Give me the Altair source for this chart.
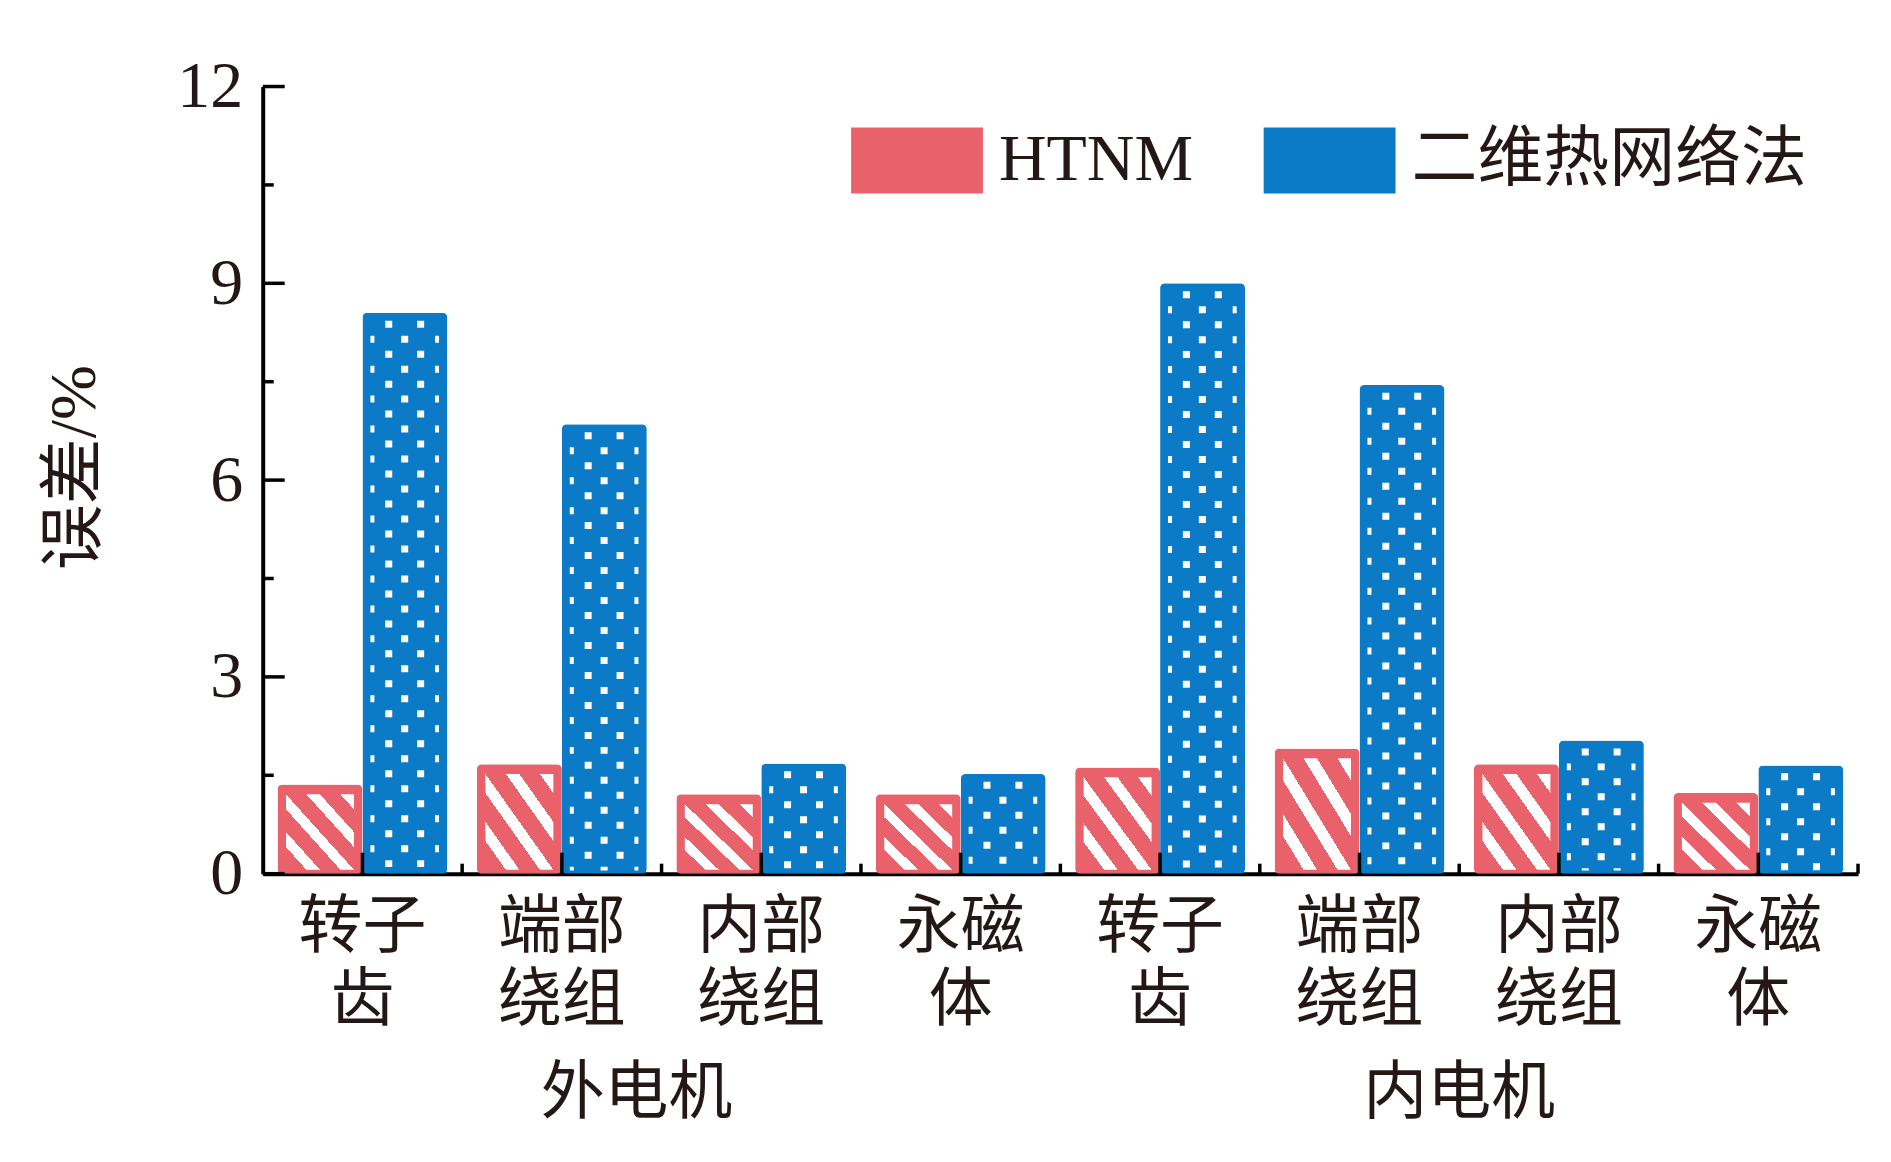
import altair as alt
import pandas as pd

# ---------------- data ----------------
groups = ["外电机", "外电机", "外电机", "外电机", "内电机", "内电机", "内电机", "内电机"]
line1 = ["转子", "端部", "内部", "永磁", "转子", "端部", "内部", "永磁"]
line2 = ["齿", "绕组", "绕组", "体", "齿", "绕组", "绕组", "体"]
series = ["HTNM", "二维热网络法"]
htnm = [1.36, 1.67, 1.21, 1.21, 1.62, 1.91, 1.67, 1.23]
twod = [8.55, 6.85, 1.68, 1.52, 9.00, 7.45, 2.03, 1.65]
group_labels = ["外电机", "内电机"]
y_major = [0, 3, 6, 9, 12]
y_minor = [1.5, 4.5, 7.5, 10.5]

RED = "#E9626B"
BLUE = "#0B7BC7"
SERIF = "Liberation Serif, Noto Sans CJK SC"
CJK = "Noto Sans CJK SC"

keys = [f"{g}|{a}|{b}" for g, a, b in zip(groups, line1, line2)]

rows = []
for k, h, t in zip(keys, htnm, twod):
    rows.append({"key": k, "series": series[0], "value": h})
    rows.append({"key": k, "series": series[1], "value": t})
df = pd.DataFrame(rows)

keys_df = pd.DataFrame({"key": keys})
grp1_df = pd.DataFrame({"label": [group_labels[0]], "key": [keys[1]]})
grp2_df = pd.DataFrame({"label": [group_labels[1]], "key": [keys[5]]})
ymaj_df = pd.DataFrame({"v": y_major})
ymin_df = pd.DataFrame({"v": y_minor})

W, H = 1597, 788

xscale = alt.Scale(paddingInner=0, paddingOuter=0)
xax = alt.Axis(
    title=None, ticks=False, domain=True, domainWidth=4, domainColor="black",
    labelExpr="[split(datum.value, '|')[1], split(datum.value, '|')[2]]",
    labelFont=CJK, labelFontSize=64, labelLineHeight=73, labelColor="#231815",
    labelPadding=22, labelBaseline="top", labelAngle=0,
)
yscale = alt.Scale(domain=[0, 12], nice=False, zero=True)
yax = alt.Axis(
    title="误差/%", titleFont=SERIF, titleFontSize=66, titleFontWeight="normal",
    titleColor="#231815", titleX=-188, titleY=381, titleAngle=270,
    titleAlign="center", titleBaseline="middle",
    values=y_major, ticks=False, domain=True, domainWidth=4, domainColor="black",
    labelFont=SERIF, labelFontSize=66, labelColor="#231815", labelPadding=20,
    grid=False,
)
xoff_scale = alt.Scale(domain=series, paddingInner=0, paddingOuter=0.174)


def X(**kw):
    return alt.X("key:N", sort=keys, scale=xscale, axis=xax, **kw)


def Y(field):
    return alt.Y(field, scale=yscale, axis=yax)


bars = alt.Chart(df).mark_bar(cornerRadius=5).encode(
    x=X(),
    xOffset=alt.XOffset("series:N", sort=series, scale=xoff_scale),
    y=Y("value:Q"),
    color=alt.Color(
        "series:N", sort=series,
        scale=alt.Scale(domain=series, range=[RED, BLUE]),
        legend=alt.Legend(
            title=None, orient="none", direction="horizontal",
            legendX=589, legendY=8,
            symbolType="M-1,-0.5L1,-0.5L1,0.5L-1,0.5Z", symbolSize=17424,
            symbolStrokeWidth=0, symbolOpacity=1,
            labelFont=SERIF, labelFontSize=66, labelColor="#231815",
            labelOffset=16, columnPadding=70, padding=0, labelLimit=0,
        ),
    ),
)

stripes_grad = []
n_per = 4
for i in range(n_per):
    a = i / n_per
    b = (i + 0.6) / n_per
    c = (i + 1) / n_per
    stripes_grad += [
        alt.GradientStop(color=RED, offset=a),
        alt.GradientStop(color=RED, offset=b),
        alt.GradientStop(color="white", offset=b),
        alt.GradientStop(color="white", offset=c),
    ]
grad = alt.LinearGradient(gradient="linear", stops=stripes_grad, x1=0, y1=1, x2=1, y2=0)

stripes = alt.Chart(df).transform_filter(
    alt.datum.series == series[0]
).transform_calculate(
    top="datum.value - 0.15", bot="0.06"
).mark_bar(width=68, color=grad).encode(
    x=X(),
    xOffset=alt.XOffset("series:N", sort=series, scale=xoff_scale),
    y=Y("top:Q"),
    y2="bot:Q",
)

dot_base = alt.Chart(df).transform_filter(
    alt.datum.series == series[1]
).transform_calculate(
    dtop="datum.value - 0.12", dbot="0.05"
)
dot_cols = [(0.632, 7, 0), (0.792, 7, 0), (0.712, 7, 15), (0.55, 4, 15), (0.874, 4, 15)]
dot_layers = []
for pos, sw, ph in dot_cols:
    dot_layers.append(
        dot_base.mark_rule(color="white", strokeWidth=sw, strokeDash=[7, 23],
                           strokeDashOffset=ph, strokeCap="butt").encode(
            x=X(bandPosition=pos),
            y=Y("dtop:Q"),
            y2="dbot:Q",
        )
    )

ytick_major = alt.Chart(ymaj_df).mark_rule(color="black", strokeWidth=3.5).encode(
    y=Y("v:Q"), x=alt.value(0), x2=alt.value(22)
)
ytick_minor = alt.Chart(ymin_df).mark_rule(color="black", strokeWidth=3.5).encode(
    y=Y("v:Q"), x=alt.value(0), x2=alt.value(11)
)
xtick_center = alt.Chart(keys_df).mark_rule(color="black", strokeWidth=3.5).encode(
    x=X(bandPosition=0.5), y=alt.value(H), y2=alt.value(H - 21)
)
xtick_edge = alt.Chart(keys_df).mark_rule(color="black", strokeWidth=3.5).encode(
    x=X(bandPosition=1), y=alt.value(H), y2=alt.value(H - 10)
)
grp_text1 = alt.Chart(grp1_df).mark_text(
    font=CJK, fontSize=64, color="#231815", baseline="middle", align="center", dx=-25
).encode(
    x=X(bandPosition=1), y=alt.value(H + 221), text="label:N"
)
grp_text2 = alt.Chart(grp2_df).mark_text(
    font=CJK, fontSize=64, color="#231815", baseline="middle", align="center"
).encode(
    x=X(bandPosition=1), y=alt.value(H + 221), text="label:N"
)

chart = alt.layer(
    bars, stripes, *dot_layers, ytick_major, ytick_minor, xtick_center, xtick_edge,
    grp_text1, grp_text2
).properties(
    width=W, height=H,
    autosize=alt.AutoSizeParams(type="none"),
    padding={"left": 255, "top": 78, "right": 25, "bottom": 270},
    background="white",
).configure_view(stroke=None, strokeWidth=0)

chart.save("out.html", embed_options={"renderer": "svg", "actions": False})
